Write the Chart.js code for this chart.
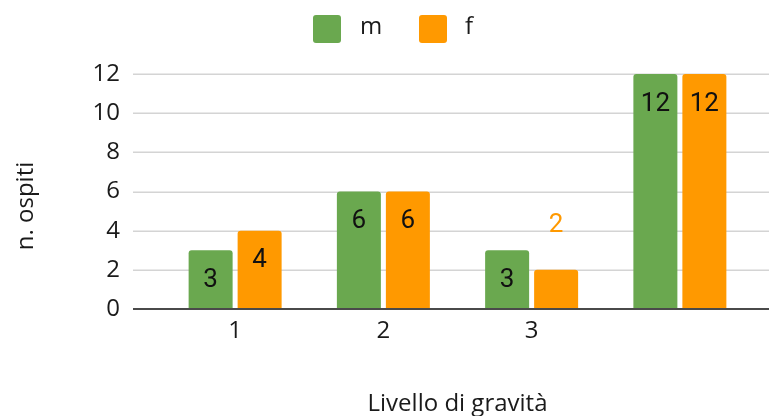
<!DOCTYPE html>
<html>
<head>
<meta charset="utf-8">
<script src="https://cdn.jsdelivr.net/npm/chart.js@4.4.1/dist/chart.umd.min.js"></script>
<style>
  html, body { margin: 0; padding: 0; background: #ffffff; }
  #wrap { width: 769px; height: 416px; position: relative; }
</style>
</head>
<body>
<div id="wrap"><canvas id="c" width="769" height="416"></canvas></div>
<script>
const categories = ["1", "2", "3", ""];
const seriesNames = ["m", "f"];
const valuesM = [3, 6, 3, 12];
const valuesF = [4, 6, 2, 12];
const yTicks = [0, 2, 4, 6, 8, 10, 12];
const xTitle = "Livello di gravità";
const yTitle = "n. ospiti";

const GREEN = "#6aa84f";
const ORANGE = "#ff9900";
const AXIS_FONT = "'Open Sans', 'Liberation Sans', sans-serif";
const LABEL_FONT = "Roboto, 'Liberation Sans', sans-serif";

const gridPlugin = {
  id: "extGrid",
  beforeDatasetsDraw(chart) {
    const { ctx, scales: { y } } = chart;
    ctx.save();
    ctx.strokeStyle = "#d4d4d4";
    ctx.lineWidth = 1.5;
    yTicks.forEach(v => {
      if (v === 0) return;
      const py = Math.round(y.getPixelForValue(v)) + 0.25;
      ctx.beginPath();
      ctx.moveTo(133, py);
      ctx.lineTo(chart.width, py);
      ctx.stroke();
    });
    ctx.restore();
  },
  afterDatasetsDraw(chart) {
    const { ctx, scales: { y } } = chart;
    ctx.save();
    ctx.strokeStyle = "#4a4a4a";
    ctx.lineWidth = 2;
    const py = Math.round(y.getPixelForValue(0));
    ctx.beginPath();
    ctx.moveTo(133, py);
    ctx.lineTo(chart.width, py);
    ctx.stroke();

    // data labels
    ctx.font = "26px " + LABEL_FONT;
    ctx.textAlign = "center";
    ctx.textBaseline = "middle";
    chart.data.datasets.forEach((ds, di) => {
      const meta = chart.getDatasetMeta(di);
      meta.data.forEach((bar, i) => {
        const h = bar.base - bar.y;
        const txt = String(ds.data[i]);
        if (h >= 50) {
          ctx.fillStyle = "#111111";
          ctx.fillText(txt, bar.x, bar.y + 30);
        } else {
          ctx.fillStyle = ds.backgroundColor;
          ctx.fillText(txt, bar.x, bar.y - 44);
        }
      });
    });

    // axis titles
    ctx.fillStyle = "#1a1a1a";
    ctx.font = "24px " + AXIS_FONT;
    ctx.textBaseline = "middle";
    ctx.textAlign = "center";
    const ca = chart.chartArea;
    ctx.fillText(xTitle, (ca.left + ca.right) / 2, 404);
    ctx.save();
    ctx.translate(26, 206);
    ctx.rotate(-Math.PI / 2);
    ctx.fillText(yTitle, 0, 0);
    ctx.restore();

    // legend
    const items = [
      { name: seriesNames[0], color: GREEN, bx: 313, tx: 360 },
      { name: seriesNames[1], color: ORANGE, bx: 419, tx: 465 }
    ];
    ctx.textAlign = "left";
    items.forEach(it => {
      ctx.fillStyle = it.color;
      ctx.beginPath();
      if (ctx.roundRect) ctx.roundRect(it.bx, 15, 28, 28, 3); else ctx.rect(it.bx, 15, 28, 28);
      ctx.fill();
      ctx.fillStyle = "#1a1a1a";
      ctx.fillText(it.name, it.tx, 27);
    });
    ctx.restore();
  }
};

new Chart(document.getElementById("c"), {
  type: "bar",
  data: {
    labels: categories,
    datasets: [
      { label: seriesNames[0], data: valuesM, backgroundColor: GREEN, borderRadius: 3,
        categoryPercentage: 0.661, barPercentage: 0.898 },
      { label: seriesNames[1], data: valuesF, backgroundColor: ORANGE, borderRadius: 3,
        categoryPercentage: 0.661, barPercentage: 0.898 }
    ]
  },
  options: {
    responsive: false,
    animation: false,
    layout: { padding: { top: 74, right: 15, left: 0, bottom: 0 } },
    plugins: { legend: { display: false }, tooltip: { enabled: false } },
    scales: {
      x: {
        grid: { display: false, drawTicks: false },
        border: { display: false },
        ticks: { color: "#1a1a1a", font: { family: AXIS_FONT, size: 24 }, padding: 8, maxRotation: 0 },
        afterFit(s) { s.height = 107; }
      },
      y: {
        min: 0, max: 12,
        grid: { display: false, drawTicks: false },
        border: { display: false },
        ticks: { stepSize: 2, color: "#1a1a1a", font: { family: AXIS_FONT, size: 24 }, padding: 41 },
        afterFit(s) { s.width = 161; }
      }
    }
  },
  plugins: [gridPlugin]
});
</script>
</body>
</html>
